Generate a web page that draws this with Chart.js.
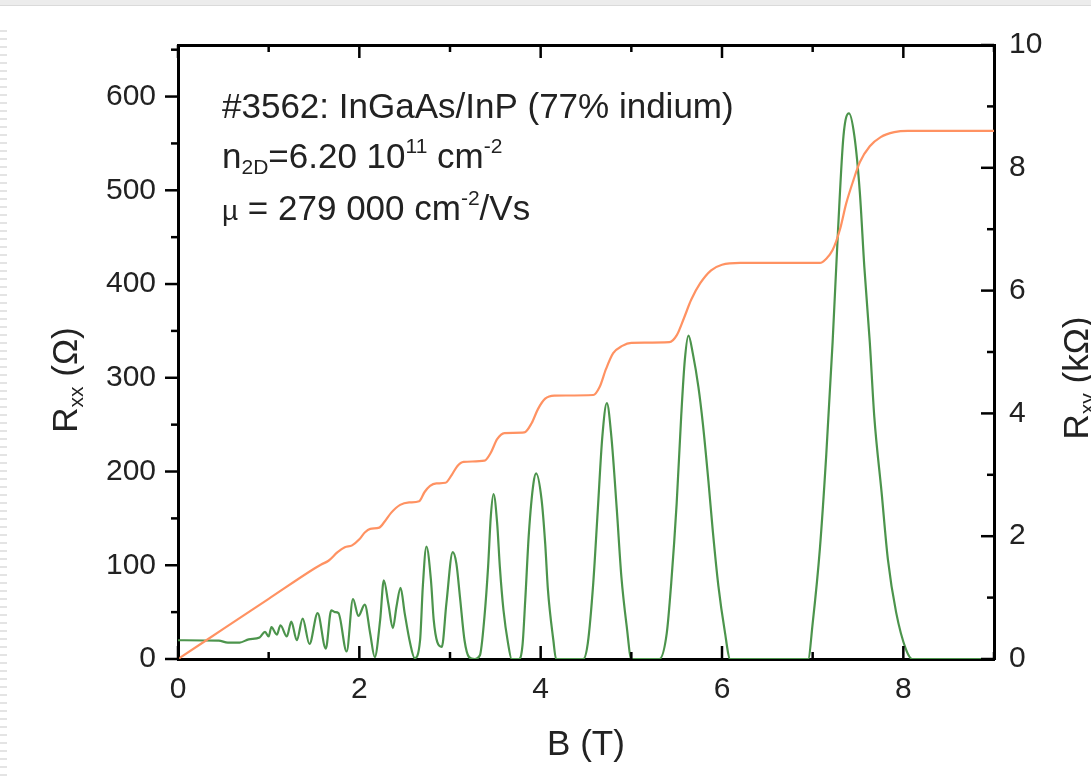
<!DOCTYPE html>
<html>
<head>
<meta charset="utf-8">
<script src="https://cdn.jsdelivr.net/npm/chart.js@4.4.1/dist/chart.umd.min.js"></script>
<style>
  html, body { margin: 0; padding: 0; background: #fff; }
  #wrap { width: 1091px; height: 777px; position: relative; }
</style>
</head>
<body>
<div id="wrap"><canvas id="c" width="1091" height="777"></canvas></div>
<script>
/**************************************************
 DATA
**************************************************/
// longitudinal resistance Rxx (Ohm) vs B (T) - green
const bXX = [0, 0.45, 0.55, 0.68, 0.78, 0.9, 0.96, 1.0, 1.03, 1.09, 1.13, 1.2, 1.25, 1.31, 1.375, 1.45, 1.54, 1.63, 1.69, 1.73, 1.77, 1.86,
  1.93, 1.99, 2.06, 2.12, 2.17, 2.23, 2.27, 2.32, 2.37, 2.41, 2.455, 2.5, 2.56, 2.61, 2.67, 2.7, 2.74, 2.79, 2.82, 2.86, 2.91, 2.96,
  3.03, 3.07, 3.11, 3.16, 3.21, 3.27, 3.33, 3.38, 3.42, 3.45, 3.48, 3.52, 3.55, 3.59, 3.64, 3.68, 3.76, 3.8, 3.83, 3.87, 3.92, 3.95,
  4.01, 4.05, 4.08, 4.14, 4.17, 4.47, 4.52, 4.58, 4.63, 4.68, 4.73, 4.78, 4.84, 4.89, 4.95, 5.0, 5.31, 5.39, 5.44, 5.5, 5.55, 5.59,
  5.63, 5.68, 5.74, 5.79, 5.85, 5.9, 5.96, 6.03, 6.09, 6.95, 7.0, 7.08, 7.15, 7.22, 7.28, 7.34, 7.4, 7.46, 7.52, 7.57, 7.63, 7.68,
  7.76, 7.83, 7.92, 8.03, 8.1, 9.0];
const rXX = [20, 19.5, 17.5, 17.5, 21, 23, 29, 24, 34, 26, 36, 24, 40, 20, 43, 16, 49, 11, 52, 50, 49, 8,
  64, 46, 58, 27, 2, 42, 84, 59, 33, 56, 76, 49, 17, 1, 20, 77, 120, 84, 42, 18, 13, 59,
  114, 102, 66, 20, 2, 0, 4, 45, 98, 152, 176, 145, 98, 52, 17, 0, 0, 15, 63, 134, 187, 198,
  170, 123, 74, 20, 0, 0, 17, 81, 159, 237, 273, 237, 159, 88, 34, 0, 0, 27, 81, 166, 259, 319,
  345, 325, 290, 250, 190, 135, 78, 30, 0, 0, 38, 118, 218, 338, 458, 558, 582, 558, 498, 418, 338, 258,
  178, 106, 50, 10, 0, 0];

// Hall resistance Rxy (kOhm) vs B (T) - orange
const bXY = [0, 0.5, 1.0, 1.5, 1.58, 1.66, 1.76, 1.84, 1.92, 2.0, 2.06, 2.12, 2.22, 2.28, 2.35, 2.45, 2.55, 2.66, 2.72, 2.78, 2.85,
  2.95, 3.02, 3.08, 3.15, 3.38, 3.45, 3.52, 3.6, 3.82, 3.9, 3.97, 4.05, 4.15, 4.58, 4.65, 4.72, 4.8, 4.9, 5.0, 5.42, 5.5, 5.58,
  5.66, 5.76, 5.88, 6.0, 6.2, 7.08, 7.15, 7.22, 7.3, 7.37, 7.45, 7.52, 7.63, 7.75, 7.9, 8.05, 9.0];
const rXY = [0, 0.49, 0.98, 1.47, 1.54, 1.6, 1.74, 1.82, 1.85, 1.95, 2.06, 2.12, 2.14, 2.24, 2.38, 2.51, 2.55, 2.57, 2.72, 2.82, 2.86,
  2.87, 3.0, 3.14, 3.21, 3.23, 3.36, 3.58, 3.68, 3.69, 3.84, 4.07, 4.24, 4.29, 4.3, 4.43, 4.72, 4.98, 5.1, 5.15, 5.16, 5.27, 5.55,
  5.85, 6.12, 6.33, 6.42, 6.45, 6.45, 6.52, 6.66, 6.99, 7.42, 7.8, 8.09, 8.35, 8.5, 8.58, 8.6, 8.6];

// axes
const xRange = [0, 9];
const xTickStep = 2;
const xLastLabel = 8;
const xTitle = "B (T)";
const rxxRange = [0, 655];
const rxxTickStep = 100;
const rxxLastLabel = 600;
const rxyRange = [0, 10];
const rxyTickStep = 2;

// annotation
const noteLines = [
  [["#3562: InGaAs/InP (77% indium)", "n"]],
  [["n", "n"], ["2D", "sub"], ["=6.20 10", "n"], ["11", "sup"], [" cm", "n"], ["-2", "sup"]],
  [["\u00b5", "mu"], [" = 279 000 cm", "n"], ["-2", "sup"], ["/Vs", "n"]]
];
const leftTitle = [["R", "n"], ["xx", "sub"], [" (\u03a9)", "n"]];
const rightTitle = [["R", "n"], ["xy", "sub"], [" (k\u03a9)", "n"]];

/**************************************************
 STYLE
**************************************************/
const FONT = "'Liberation Sans', Arial, sans-serif";
const TXT = "#222";

function partSize(k, size) {
  if (k === "n") return size;
  if (k === "mu") return Math.round(size * 0.8);
  return Math.round(size * 0.6);
}

function richWidth(ctx, parts, size) {
  let w = 0;
  for (const [t, k] of parts) {
    ctx.font = partSize(k, size) + "px " + FONT;
    w += ctx.measureText(t).width;
  }
  return w;
}

function drawRich(ctx, parts, x, y, size) {
  for (const [t, k] of parts) {
    const dy = k === "sub" ? size * 0.17 : k === "sup" ? -size * 0.42 : 0;
    ctx.font = partSize(k, size) + "px " + FONT;
    ctx.fillText(t, x, y + dy);
    x += ctx.measureText(t).width;
  }
}

const page = {
  id: "page",
  beforeDraw(chart) {
    const ctx = chart.ctx;
    ctx.save();
    ctx.fillStyle = "#fff";
    ctx.fillRect(0, 0, chart.width, chart.height);
    ctx.fillStyle = "#ececec";
    ctx.fillRect(0, 0, chart.width, 5);
    ctx.fillStyle = "#dadada";
    ctx.fillRect(0, 5, chart.width, 1);
    ctx.fillStyle = "#e4e4e4";
    for (let y = 30; y < chart.height; y += 8) ctx.fillRect(0, y, 7, 2);
    ctx.restore();
  }
};

// major ticks at the step, minor ticks halfway
const frameTicks = {
  id: "frameTicks",
  afterDatasetsDraw(chart) {
    const {ctx, chartArea: a, scales} = chart;
    const MAJ = 13, MIN = 7;
    ctx.save();
    ctx.strokeStyle = "#000";
    ctx.lineWidth = 2.5;
    const line = (x1, y1, x2, y2) => { ctx.beginPath(); ctx.moveTo(x1, y1); ctx.lineTo(x2, y2); ctx.stroke(); };

    const marks = (scale, step) => {
      const out = [];
      for (let v = scale.min; v <= scale.max + 1e-9; v += step / 2) {
        const major = Math.abs(v / step - Math.round(v / step)) < 1e-6;
        out.push([scale.getPixelForValue(v), major ? MAJ : MIN]);
      }
      return out;
    };

    for (const [px, len] of marks(scales.x, xTickStep)) {
      line(px, a.bottom, px, a.bottom - len);   // bottom, inward
      line(px, a.top, px, a.top + len);         // top, inward
    }
    for (const [py, len] of marks(scales.y, rxxTickStep)) {
      line(a.left, py, a.left - len, py);       // left, outward
    }
    for (const [py, len] of marks(scales.y2, rxyTickStep)) {
      line(a.right, py, a.right - len, py);     // right, inward
    }
    ctx.restore();
  }
};

const labels = {
  id: "labels",
  afterDraw(chart) {
    const {ctx} = chart;
    ctx.save();
    ctx.fillStyle = TXT;
    ctx.textBaseline = "alphabetic";
    ctx.textAlign = "left";

    // annotation
    const NS = 35;
    const baselines = [118, 168, 220];
    noteLines.forEach((parts, i) => drawRich(ctx, parts, 222, baselines[i], NS));

    // axis titles, rotated
    const TS = 35;
    let w = richWidth(ctx, leftTitle, TS);
    ctx.save();
    ctx.translate(77, 380);
    ctx.rotate(-Math.PI / 2);
    drawRich(ctx, leftTitle, -w / 2, 0, TS);
    ctx.restore();

    w = richWidth(ctx, rightTitle, TS);
    ctx.save();
    ctx.translate(1088, 378);
    ctx.rotate(-Math.PI / 2);
    drawRich(ctx, rightTitle, -w / 2, 0, TS);
    ctx.restore();

    ctx.restore();
  }
};

/**************************************************
 CHART
**************************************************/
const tickFont = { family: FONT, size: 30 };
const axisBorder = { display: true, color: "#000", width: 3 };

new Chart(document.getElementById("c"), {
  type: "line",
  data: {
    datasets: [
      {
        label: "Rxy",
        data: bXY.map((b, i) => ({ x: b, y: rXY[i] })),
        yAxisID: "y2",
        borderColor: "#ff9262",
        borderWidth: 2.2,
        pointRadius: 0,
        cubicInterpolationMode: "monotone",
        order: 0
      },
      {
        label: "Rxx",
        data: bXX.map((b, i) => ({ x: b, y: rXX[i] })),
        yAxisID: "y",
        borderColor: "#4c944c",
        borderWidth: 2.2,
        pointRadius: 0,
        cubicInterpolationMode: "monotone",
        order: 1
      }
    ]
  },
  options: {
    responsive: false,
    animation: false,
    events: [],
    layout: { padding: 0 },
    plugins: { legend: { display: false }, tooltip: { enabled: false } },
    scales: {
      x: {
        type: "linear", position: "bottom",
        min: xRange[0], max: xRange[1],
        ticks: {
          stepSize: xTickStep, font: tickFont, color: TXT, padding: 13, maxRotation: 0,
          callback: v => (v % xTickStep === 0 && v <= xLastLabel ? v : "")
        },
        title: {
          display: true, text: xTitle, color: TXT,
          font: { family: FONT, size: 35, lineHeight: 1.2 },
          padding: { top: 0, bottom: 11 }
        },
        grid: { display: false, drawTicks: false },
        border: axisBorder,
        afterFit: s => { s.height = 118; }
      },
      xTop: {
        type: "linear", position: "top",
        min: xRange[0], max: xRange[1],
        ticks: { display: false },
        grid: { display: false, drawTicks: false },
        border: axisBorder,
        afterFit: s => { s.height = 45; }
      },
      y: {
        type: "linear", position: "left",
        min: rxxRange[0], max: rxxRange[1],
        ticks: {
          stepSize: rxxTickStep, font: tickFont, color: TXT, padding: 22,
          callback: v => (v % rxxTickStep === 0 && v <= rxxLastLabel ? v : "")
        },
        grid: { display: false, drawTicks: false },
        border: axisBorder,
        afterFit: s => { s.width = 178; }
      },
      y2: {
        type: "linear", position: "right",
        min: rxyRange[0], max: rxyRange[1],
        ticks: { stepSize: rxyTickStep, font: tickFont, color: TXT, padding: 15 },
        grid: { display: false, drawTicks: false },
        border: axisBorder,
        afterFit: s => { s.width = 97; }
      }
    }
  },
  plugins: [page, frameTicks, labels]
});
</script>
</body>
</html>
